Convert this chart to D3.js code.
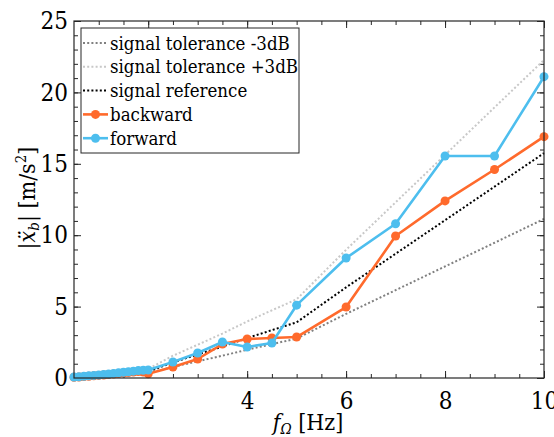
<!DOCTYPE html>
<html>
<head>
<meta charset="utf-8">
<script src="https://cdn.jsdelivr.net/npm/d3@7"></script>
<style>
body { margin: 0; background: #fff; }
</style>
</head>
<body>
<svg id="chart" width="554" height="437"></svg>
<script>
// frequencies [Hz]
var freq = [0.5, 0.6, 0.7, 0.8, 0.9, 1.0, 1.1, 1.2, 1.3, 1.4, 1.5, 1.6, 1.7, 1.8, 1.9, 2.0,
    2.5, 3.0, 3.5, 4.0, 4.5, 5.0, 6.0, 7.0, 8.0, 9.0, 10.0];

var tolLower = [0.02, 0.03, 0.04, 0.06, 0.07, 0.08, 0.11, 0.13, 0.15, 0.17, 0.19, 0.21, 0.23, 0.26, 0.29, 0.32,
    0.78, 1.17, 1.56, 1.98, 2.37, 2.76, 4.49, 6.15, 7.81, 9.47, 11.14];
var tolUpper = [0.04, 0.06, 0.08, 0.11, 0.14, 0.17, 0.21, 0.25, 0.30, 0.34, 0.38, 0.42, 0.47, 0.52, 0.58, 0.64,
    1.56, 2.33, 3.11, 3.96, 4.74, 5.51, 8.98, 12.30, 15.62, 18.95, 22.27];
var reference = [0.03, 0.04, 0.06, 0.08, 0.10, 0.12, 0.15, 0.18, 0.21, 0.24, 0.27, 0.30, 0.33, 0.37, 0.41, 0.45,
    1.10, 1.65, 2.20, 2.80, 3.35, 3.90, 6.35, 8.70, 11.05, 13.40, 15.75];
var backward = [0.05, 0.07, 0.10, 0.12, 0.15, 0.18, 0.21, 0.24, 0.28, 0.31, 0.35, 0.38, 0.42, 0.45, 0.42, 0.30,
    0.77, 1.33, 2.38, 2.73, 2.80, 2.87, 4.97, 9.94, 12.40, 14.60, 16.90];
var forward = [0.07, 0.09, 0.12, 0.15, 0.18, 0.21, 0.25, 0.28, 0.32, 0.36, 0.40, 0.44, 0.48, 0.52, 0.54, 0.56,
    1.12, 1.75, 2.52, 2.17, 2.45, 5.10, 8.40, 10.80, 15.55, 15.55, 21.10];

var xTicks = [2, 4, 6, 8, 10];
var yTicks = [0, 5, 10, 15, 20, 25];

var series = [
    { name: "signal tolerance -3dB", values: tolLower, color: "#808080", dotted: true },
    { name: "signal tolerance +3dB", values: tolUpper, color: "#c8c8c8", dotted: true },
    { name: "signal reference", values: reference, color: "#000000", dotted: true },
    { name: "backward", values: backward, color: "#ff6a2c", dotted: false },
    { name: "forward", values: forward, color: "#4dbeee", dotted: false }
];

var svg = d3.select("#chart");
var pLeft = 74, pRight = 544, pTop = 21, pBottom = 378;
var serif = "'DejaVu Serif Condensed', 'DejaVu Serif'";
svg.attr("font-family", serif);

var x = d3.scaleLinear().domain([0.5, 10]).range([pLeft, pRight]);
var y = d3.scaleLinear().domain([0, 25]).range([pBottom, pTop]);

// minor ticks
var xMinor = d3.range(1, 10.01, 0.5);
var yMinor = d3.range(0, 25.01, 1);

var axes = svg.append("g");
axes.append("g").attr("transform", "translate(0," + pBottom + ")")
    .call(d3.axisBottom(x).tickValues(xMinor).tickSizeInner(-4).tickSizeOuter(0).tickFormat(""));
axes.append("g").attr("transform", "translate(0," + pTop + ")")
    .call(d3.axisTop(x).tickValues(xMinor).tickSizeInner(-4).tickSizeOuter(0).tickFormat(""));
axes.append("g").attr("transform", "translate(" + pLeft + ",0)")
    .call(d3.axisLeft(y).tickValues(yMinor).tickSizeInner(-4).tickSizeOuter(0).tickFormat(""));
axes.append("g").attr("transform", "translate(" + pRight + ",0)")
    .call(d3.axisRight(y).tickValues(yMinor).tickSizeInner(-4).tickSizeOuter(0).tickFormat(""));

axes.append("g").attr("transform", "translate(0," + pBottom + ")")
    .call(d3.axisBottom(x).tickValues(xTicks).tickSizeInner(-7).tickSizeOuter(0).tickPadding(14));
axes.append("g").attr("transform", "translate(0," + pTop + ")")
    .call(d3.axisTop(x).tickValues(xTicks).tickSizeInner(-7).tickSizeOuter(0).tickFormat(""));
axes.append("g").attr("transform", "translate(" + pLeft + ",0)")
    .call(d3.axisLeft(y).tickValues(yTicks).tickSizeInner(-7).tickSizeOuter(0).tickPadding(6));
axes.append("g").attr("transform", "translate(" + pRight + ",0)")
    .call(d3.axisRight(y).tickValues(yTicks).tickSizeInner(-7).tickSizeOuter(0).tickFormat(""));

axes.selectAll(".domain").remove();
axes.selectAll("g").attr("font-family", serif);
axes.selectAll("line").attr("stroke", "#262626");
axes.selectAll("text").attr("font-size", 24).attr("fill", "#000");

// plot lines
var line = d3.line().x((d, i) => x(freq[i])).y(d => y(d));
var plot = svg.append("g");
series.forEach(function (s) {
    plot.append("path")
        .datum(s.values)
        .attr("d", line)
        .attr("fill", "none")
        .attr("stroke", s.color)
        .attr("stroke-width", s.dotted ? 2 : 2.6)
        .attr("stroke-dasharray", s.dotted ? "2,2.2" : null)
        .attr("stroke-linejoin", "round");
    if (!s.dotted) {
        plot.selectAll()
            .data(s.values)
            .enter().append("circle")
            .attr("cx", (d, i) => x(freq[i]))
            .attr("cy", d => y(d))
            .attr("r", 4.5)
            .attr("fill", s.color);
    }
});

// box
svg.append("rect")
    .attr("x", pLeft).attr("y", pTop)
    .attr("width", pRight - pLeft).attr("height", pBottom - pTop)
    .attr("fill", "none").attr("stroke", "#262626").attr("stroke-width", 1.2);

// legend
var lg = svg.append("g").attr("font-family", serif);
lg.append("rect")
    .attr("x", 81).attr("y", 28).attr("width", 218).attr("height", 125)
    .attr("fill", "#fff").attr("stroke", "#262626").attr("stroke-width", 1);
series.forEach(function (s, i) {
    var cy = 43 + i * 23.8;
    lg.append("line")
        .attr("x1", 83).attr("x2", 108).attr("y1", cy).attr("y2", cy)
        .attr("stroke", s.color)
        .attr("stroke-width", s.dotted ? 2 : 2.6)
        .attr("stroke-dasharray", s.dotted ? "2,2.2" : null);
    if (!s.dotted) {
        lg.append("circle").attr("cx", 95.5).attr("cy", cy).attr("r", 4.5).attr("fill", s.color);
    }
    lg.append("text")
        .attr("x", 110).attr("y", cy + 6.5)
        .attr("font-size", 18.5)
        .text(s.name);
});

// axis labels
var xl = svg.append("text")
    .attr("x", 308).attr("y", 430)
    .attr("text-anchor", "middle")
    .attr("font-size", 23);
xl.append("tspan").attr("font-style", "italic").text("f");
xl.append("tspan").attr("font-style", "italic").attr("font-size", 15).attr("dy", 4).text("Ω");
xl.append("tspan").attr("dy", -4).text(" [Hz]");

var ylab = svg.append("text")
    .attr("transform", "translate(35,198) rotate(-90)")
    .attr("text-anchor", "middle")
    .attr("font-size", 23);
ylab.append("tspan").text("|");
ylab.append("tspan").attr("font-style", "italic").text("x\u0308");
ylab.append("tspan").attr("font-style", "italic").attr("font-size", 15).attr("dy", 4).text("b");
ylab.append("tspan").attr("dy", -4).text("| [m/s");
ylab.append("tspan").attr("font-size", 15).attr("dy", -9).text("2");
ylab.append("tspan").attr("dy", 9).text("]");
</script>
</body>
</html>
